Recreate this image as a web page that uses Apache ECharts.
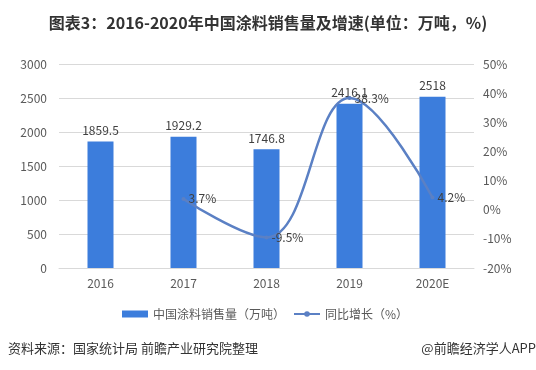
<!DOCTYPE html>
<html>
<head>
<meta charset="utf-8">
<script src="https://cdn.jsdelivr.net/npm/echarts@6/dist/echarts.min.js"></script>
<style>
html,body{margin:0;padding:0;background:#fff;}
#c{width:536px;height:370px;}
</style>
</head>
<body>
<div id="c"></div>
<script>
const categories = ['2016', '2017', '2018', '2019', '2020E'];
const salesVolume = [1859.5, 1929.2, 1746.8, 2416.1, 2518];
const growthRate = [null, 3.7, -9.5, 38.3, 4.2];
const leftTicks = {min: 0, max: 3000, interval: 500};
const rightTicks = {min: -20, max: 50, interval: 10};

const FONT = '"Noto Sans CJK SC", "Noto Sans", sans-serif';
const chart = echarts.init(document.getElementById('c'), null, {renderer: 'canvas'});
chart.setOption({
  backgroundColor: '#ffffff',
  textStyle: {fontFamily: FONT},
  title: {
    text: '图表3：2016-2020年中国涂料销售量及增速(单位：万吨，%)',
    left: 'center',
    top: 10,
    textStyle: {fontFamily: FONT, fontSize: 16, fontWeight: 'bold', color: '#333333'}
  },
  grid: {left: 59, right: 62, top: 64, bottom: 102, containLabel: false},
  legend: {
    left: 117,
    top: 303,
    itemWidth: 26,
    itemHeight: 7,
    itemGap: 8,
    textStyle: {fontFamily: FONT, fontSize: 12, color: '#595959'},
    data: [
      {name: '中国涂料销售量（万吨）', icon: 'rect'},
      {name: '同比增长（%）'}
    ]
  },
  xAxis: {
    type: 'category',
    data: categories,
    axisLine: {lineStyle: {color: '#d9d9d9'}},
    axisTick: {show: false},
    axisLabel: {color: '#595959', fontSize: 12, margin: 9, fontFamily: FONT}
  },
  yAxis: [
    {
      type: 'value',
      min: leftTicks.min, max: leftTicks.max, interval: leftTicks.interval,
      axisLine: {show: false},
      axisTick: {show: false},
      axisLabel: {color: '#595959', fontSize: 12, margin: 12, fontFamily: FONT, formatter: v => String(v)},
      splitLine: {lineStyle: {color: '#d9d9d9'}}
    },
    {
      type: 'value',
      min: rightTicks.min, max: rightTicks.max, interval: rightTicks.interval,
      axisLine: {show: false},
      axisTick: {show: false},
      axisLabel: {color: '#595959', fontSize: 12, margin: 9, formatter: v => v + '%', fontFamily: FONT},
      splitLine: {show: false}
    }
  ],
  series: [
    {
      name: '中国涂料销售量（万吨）',
      type: 'bar',
      data: salesVolume,
      barWidth: 26,
      itemStyle: {color: '#3c7ddc'},
      label: {show: true, position: 'top', distance: 5, color: '#404040', fontSize: 12, fontFamily: FONT}
    },
    {
      name: '同比增长（%）',
      type: 'line',
      yAxisIndex: 1,
      data: growthRate,
      smooth: 0.4,
      symbol: 'circle',
      symbolSize: 4,
      showSymbol: true,
      z: 5,
      lineStyle: {color: '#5b80c4', width: 2.5},
      itemStyle: {color: '#5b80c4'},
      label: {show: true, position: 'right', distance: 3, color: '#404040', fontSize: 12, fontFamily: FONT,
        formatter: p => p.value + '%'}
    }
  ],
  graphic: [
    {type: 'text', left: 8, top: 342,
      style: {text: '资料来源：国家统计局 前瞻产业研究院整理', fill: '#333333', font: '13px ' + FONT}},
    {type: 'text', right: 0, top: 342,
      style: {text: '@前瞻经济学人APP', fill: '#333333', font: '13px ' + FONT}}
  ]
});
</script>
</body>
</html>
